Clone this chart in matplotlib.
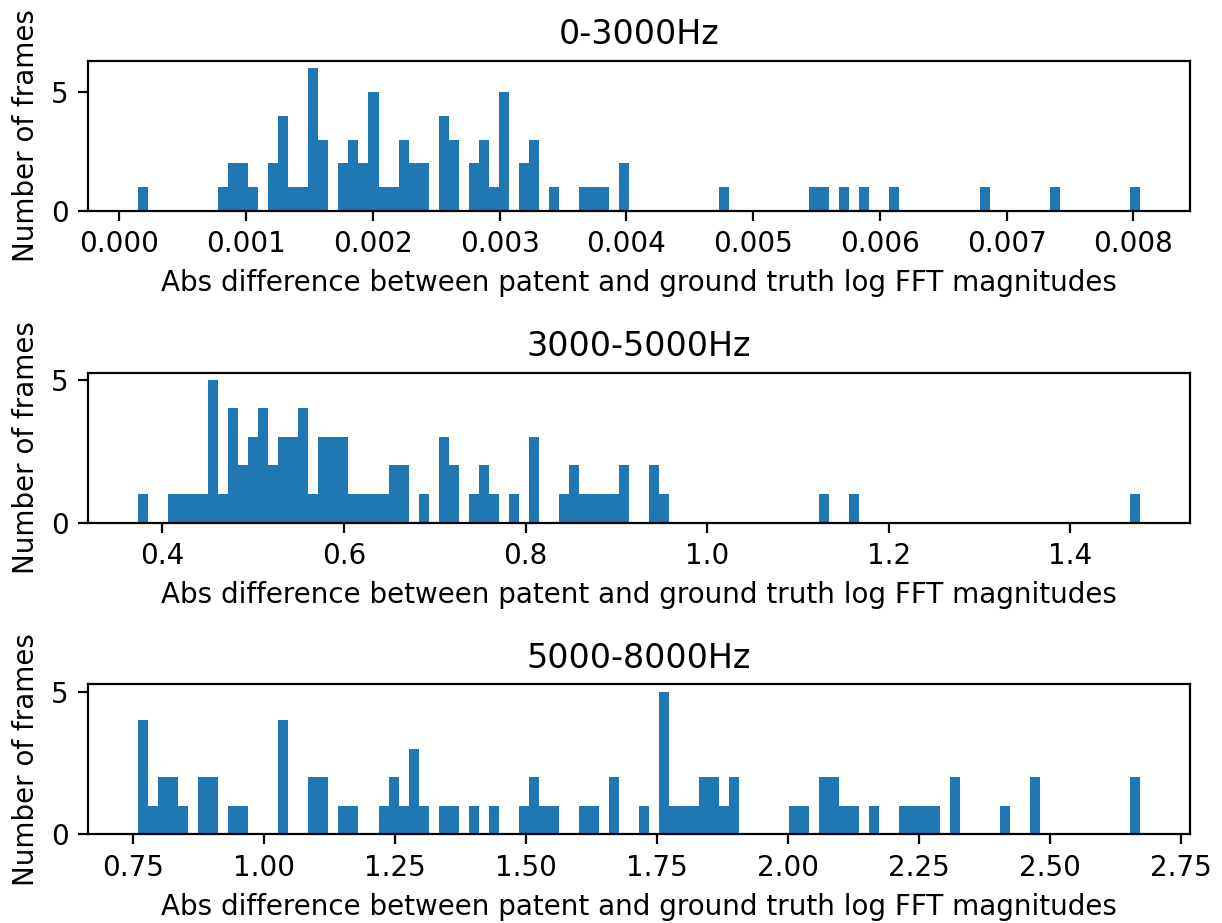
import numpy as np
import matplotlib
matplotlib.use("Agg")
import matplotlib.pyplot as plt

# ---------------------------------------------------------------- data
# 100-bin histograms, counts
XLABEL = "Abs difference between patent and ground truth log FFT magnitudes"
YLABEL = "Number of frames"

titles = ["0-3000Hz", "3000-5000Hz", "5000-8000Hz"]

# (min, max) of the binned values in each band
ranges = [(0.000148, 0.008051), (0.3732, 1.4768), (0.7596, 2.6716)]

counts_low = [
    1, 0, 0, 0, 0, 0, 0, 0, 1, 2,
    2, 1, 0, 2, 4, 1, 1, 6, 3, 0,
    2, 3, 2, 5, 1, 1, 3, 2, 2, 0,
    4, 3, 0, 2, 3, 1, 5, 0, 2, 3,
    0, 1, 0, 0, 1, 1, 1, 0, 2, 0,
    0, 0, 0, 0, 0, 0, 0, 0, 1, 0,
    0, 0, 0, 0, 0, 0, 0, 1, 1, 0,
    1, 0, 1, 0, 0, 1, 0, 0, 0, 0,
    0, 0, 0, 0, 1, 0, 0, 0, 0, 0,
    0, 1, 0, 0, 0, 0, 0, 0, 0, 1,
]

counts_mid = [
    1, 0, 0, 1, 1, 1, 1, 5, 1, 4,
    2, 3, 4, 2, 3, 3, 4, 1, 3, 3,
    3, 1, 1, 1, 1, 2, 2, 0, 1, 0,
    3, 2, 0, 1, 2, 1, 0, 1, 0, 3,
    0, 0, 1, 2, 1, 1, 1, 1, 2, 0,
    0, 2, 1, 0, 0, 0, 0, 0, 0, 0,
    0, 0, 0, 0, 0, 0, 0, 0, 1, 0,
    0, 1, 0, 0, 0, 0, 0, 0, 0, 0,
    0, 0, 0, 0, 0, 0, 0, 0, 0, 0,
    0, 0, 0, 0, 0, 0, 0, 0, 0, 1,
]

counts_high = [
    4, 1, 2, 2, 1, 0, 2, 2, 0, 1,
    1, 0, 0, 0, 4, 0, 0, 2, 2, 0,
    1, 1, 0, 0, 1, 2, 1, 3, 1, 0,
    1, 1, 0, 1, 0, 1, 0, 0, 1, 2,
    1, 1, 0, 0, 1, 1, 0, 2, 0, 0,
    1, 0, 5, 1, 1, 1, 2, 2, 1, 2,
    0, 0, 0, 0, 0, 1, 1, 0, 2, 2,
    1, 1, 0, 1, 0, 0, 1, 1, 1, 1,
    0, 2, 0, 0, 0, 0, 1, 0, 0, 2,
    0, 0, 0, 0, 0, 0, 0, 0, 0, 2,
]

xticks = [
    [0.000, 0.001, 0.002, 0.003, 0.004, 0.005, 0.006, 0.007, 0.008],
    [0.4, 0.6, 0.8, 1.0, 1.2, 1.4],
    [0.75, 1.00, 1.25, 1.50, 1.75, 2.00, 2.25, 2.50, 2.75],
]
xtick_fmt = ["{:.3f}", "{:.1f}", "{:.2f}"]

# ---------------------------------------------------------------- plot
fig, axes = plt.subplots(3, 1, figsize=(6.11, 4.615), dpi=200)
fig.subplots_adjust(left=0.072, right=0.9738, top=0.9339, bottom=0.0961,
                    hspace=1.08)

for ax, title, (lo, hi), counts, ticks, fmt in zip(
        axes, titles, ranges, [counts_low, counts_mid, counts_high],
        xticks, xtick_fmt):
    edges = np.linspace(lo, hi, len(counts) + 1)
    centers = (edges[:-1] + edges[1:]) / 2
    ax.hist(centers, bins=edges, weights=counts, color='#1f77b4')
    ax.set_title(title)
    ax.set_xlabel(XLABEL)
    ax.set_ylabel(YLABEL)
    ax.set_yticks([0, 5])
    ax.set_xticks(ticks)
    ax.set_xticklabels([fmt.format(t) for t in ticks])

plt.savefig("out.png", dpi=200)
